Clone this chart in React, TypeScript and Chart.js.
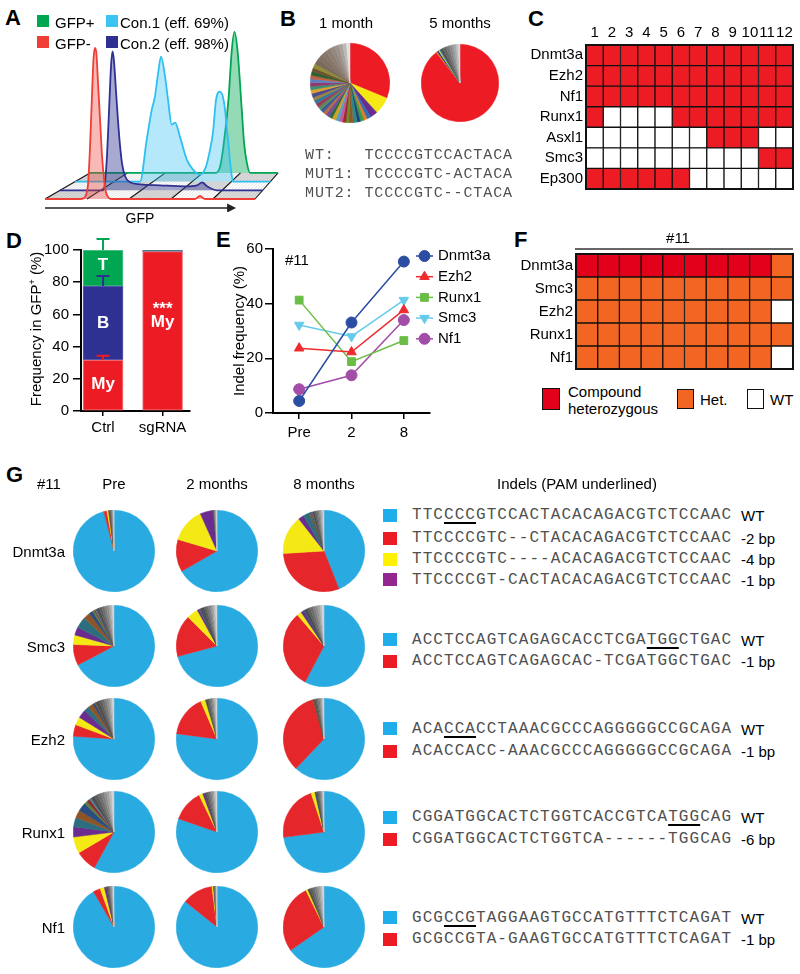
import React, { useEffect, useRef } from 'react';
import { Chart, registerables } from 'chart.js';
import { drawPoint } from 'chart.js/helpers';

Chart.register(...registerables);

const SANS = '"Liberation Sans", Arial, Helvetica, sans-serif';
const MONO = '"Liberation Mono", "DejaVu Sans Mono", monospace';
Chart.defaults.font.family = SANS;
Chart.defaults.font.size = 15;
Chart.defaults.color = '#000';
const TICK_FONT = { family: SANS, size: 15 };

// ---------------- Panel A: GFP histograms (x = GFP channel 0-100, y = counts) ----------------
const gfpNegX = [0, 16.7, 18.6, 19.5, 20.5, 21.4, 22.4, 23.1, 23.8, 24.5, 25.2, 26.2, 27.1, 28.1, 29.0, 30.0, 31.4, 71.4, 73.8, 76.2, 100];
const gfpNegY = [0, 0, 1, 4, 15, 50, 105, 140, 151, 145, 118, 80, 45, 20, 7, 2, 0, 0, 3, 0, 0];
const con2X = [0, 19, 21.2, 22.2, 23.2, 24.2, 25.2, 25.9, 26.6, 27.6, 28.6, 29.6, 30.6, 32.1, 34.5, 39.5, 49.3, 61.7, 67.6, 70.1, 72.5, 77.5, 100];
const con2Y = [0, 0, 0, 8, 35, 80, 125, 139, 130, 100, 70, 45, 27, 14, 8, 6, 5, 4, 5, 8, 4, 0, 0];
const con1X = [0, 33.3, 36.7, 39.3, 40.9, 42.5, 44.0, 46.1, 47.6, 49.5, 51.2, 53.7, 57.2, 60.4, 64.0, 67.0, 69.1, 70.6, 72.2, 74.2, 76.3, 78.3, 79.8, 80.9, 100];
const con1Y = [0, 0, 42, 72, 85, 108, 125, 105, 82, 57, 59, 45, 22, 12, 7, 15, 32, 49, 82, 90, 79, 42, 12, 0, 0];
const gfpPosX = [0, 66.5, 69.1, 70.9, 73.6, 75.4, 76.8, 78.4, 80.7, 81.9, 83.4, 85.1, 100];
const gfpPosY = [0, 0, 6, 26, 73, 123, 141, 123, 63, 30, 10, 0, 0];
const aLegendNames = ['GFP+', 'Con.1 (eff. 69%)', 'GFP-', 'Con.2 (eff. 98%)'];

// ---------------- Panel B ----------------
const bTitles = ['1 month', '5 months'];
const b1Values = [31, 7, 3,
  1.6, 1.4, 1.5, 1.3, 1.6, 1.7, 1.2, 1.4, 1.5, 1.3, 1.6, 1.4, 1.5, 1.3, 1.5, 1.4, 1.6, 1.5, 1.3, 1.6, 1.5, 1.4, 1.6, 1.5, 1.4, 1.6, 1.5, 1.6,
  2.4, 2.2, 2.1, 2.0, 1.9, 1.8, 1.6, 1.6, 1.4];
const b2Values = [89.5, 0.5, 0.7, 0.4, 0.3, 1.4, 1.3, 1.2, 1.1, 1.0, 1.0, 0.9, 0.7];
const bSeqs = ['WT:   TCCCCGTCCACTACA', 'MUT1: TCCCCGTC-ACTACA', 'MUT2: TCCCCGTC--CTACA'];

// ---------------- Panel C ----------------
const cColumns = ['1', '2', '3', '4', '5', '6', '7', '8', '9', '10', '11', '12'];
const cGenes = ['Dnmt3a', 'Ezh2', 'Nf1', 'Runx1', 'Asxl1', 'Smc3', 'Ep300'];
const cDnmt3a = [1, 1, 1, 1, 1, 1, 1, 1, 1, 1, 1, 1];
const cEzh2 = [1, 1, 1, 1, 1, 1, 1, 1, 1, 1, 1, 1];
const cNf1 = [1, 1, 1, 1, 1, 1, 1, 1, 1, 1, 1, 1];
const cRunx1 = [1, 0, 0, 0, 0, 1, 1, 1, 1, 1, 1, 1];
const cAsxl1 = [0, 0, 0, 0, 0, 0, 0, 1, 1, 1, 0, 0];
const cSmc3 = [0, 0, 0, 0, 0, 0, 0, 0, 0, 0, 1, 1];
const cEp300 = [1, 1, 1, 1, 1, 1, 0, 0, 0, 0, 0, 0];

// ---------------- Panel D ----------------
const dGroups = ['Ctrl', 'sgRNA'];
const dGroupX = [1, 2];
const dMy = [31.7, 99.0];
const dB = [45.9, 0.6];
const dT = [22.4, 0.4];
const dMyErr = [2.6, 0];
const dBErr = [6.3, 0];
const dTErr = [6.8, 0];
const dAnnotGroup = [0, 0, 0, 1, 1];
const dAnnotValue = [16.8, 54.7, 90.7, 63, 55];
const dAnnotText = ['My', 'B', 'T', '***', 'My'];

// ---------------- Panel E ----------------
const eTimes = ['Pre', '2', '8'];
const eDnmt3a = [4.4, 33.1, 55.4];
const eEzh2 = [23.7, 22.3, 37.7];
const eRunx1 = [41.3, 18.8, 26.5];
const eSmc3 = [32.2, 28.0, 41.3];
const eNf1 = [8.7, 13.8, 34.0];

// ---------------- Panel F ----------------
const fTitle = '#11';
const fColumns = ['1', '2', '3', '4', '5', '6', '7', '8', '9', '10'];
const fGenes = ['Dnmt3a', 'Smc3', 'Ezh2', 'Runx1', 'Nf1'];
const fDnmt3a = [2, 2, 2, 2, 2, 2, 2, 2, 2, 1];
const fSmc3 = [1, 1, 1, 1, 1, 1, 1, 1, 1, 1];
const fEzh2 = [1, 1, 1, 1, 1, 1, 1, 1, 1, 0];
const fRunx1 = [1, 1, 1, 1, 1, 1, 1, 1, 1, 1];
const fNf1 = [1, 1, 1, 1, 1, 1, 1, 1, 1, 0];

// ---------------- Panel G ----------------
const gGenes = ['Dnmt3a', 'Smc3', 'Ezh2', 'Runx1', 'Nf1'];
const gTimes = ['Pre', '2 months', '8 months'];
// slice order: WT, indel 1, indel 2, indel 3, other indels x6, rare alleles x8
const gDnmt3aPre = [96, 1.2, 0.6, 0, 0, 0.3, 0, 0, 0, 0, 0.3, 0.3, 0.3, 0.3, 0.2, 0.2, 0.2, 0.1];
const gDnmt3a2m = [66.7, 12.9, 13.7, 5.0, 0, 0, 0, 0, 0, 0, 0.3, 0.2, 0.2, 0.2, 0.2, 0.2, 0.2, 0.2];
const gDnmt3a8m = [44, 30, 15.4, 2.2, 2.4, 0.4, 0.3, 0.3, 0.2, 0.2, 0.8, 0.7, 0.6, 0.6, 0.5, 0.5, 0.5, 0.4];
const gSmc3Pre = [67.3, 8.3, 3.8, 3.2, 4.4, 2.7, 1.5, 0.8, 0.4, 0.4, 1.2, 1.1, 1.0, 0.9, 0.9, 0.8, 0.7, 0.6];
const gSmc32m = [70.9, 16.6, 4.5, 0.8, 0.3, 0.2, 0.5, 0, 0, 0, 1.0, 0.9, 0.8, 0.8, 0.7, 0.7, 0.7, 0.6];
const gSmc38m = [57.7, 31, 1.8, 1.2, 0.2, 0, 0.2, 0, 0, 0, 1.2, 1.1, 1.1, 1.0, 1.0, 0.9, 0.8, 0.8];
const gEzh2Pre = [76.1, 4.6, 3.2, 3.4, 2.0, 2.0, 1.0, 0.3, 0.2, 0, 1.2, 1.1, 1.0, 0.9, 0.9, 0.8, 0.7, 0.6];
const gEzh22m = [77.1, 16.4, 1.9, 0, 0, 0, 0, 0, 0, 0, 0.8, 0.7, 0.6, 0.6, 0.5, 0.5, 0.5, 0.4];
const gEzh28m = [62.1, 33.4, 0, 0, 0, 0.4, 0, 0, 0, 0, 0.7, 0.6, 0.6, 0.5, 0.5, 0.4, 0.4, 0.4];
const gRunx1Pre = [58, 8.5, 6.5, 4.1, 3.7, 3.1, 3.4, 1.2, 1.3, 0.7, 1.5, 1.4, 1.3, 1.2, 1.1, 1.1, 1.0, 0.9];
const gRunx12m = [80.3, 12.5, 1.5, 0.7, 0, 0, 0, 0, 0, 0, 0.8, 0.7, 0.7, 0.6, 0.6, 0.6, 0.5, 0.5];
const gRunx18m = [72.9, 22, 1.5, 0, 0, 0, 0.5, 0, 0, 0, 0.5, 0.5, 0.4, 0.4, 0.4, 0.3, 0.3, 0.3];
const gNf1Pre = [91.6, 2.9, 1.7, 0.8, 0, 0, 0, 0, 0, 0, 0.5, 0.4, 0.4, 0.4, 0.4, 0.3, 0.3, 0.3];
const gNf12m = [85.8, 12.2, 0.6, 0, 0, 0, 0, 0, 0, 0, 0.2, 0.2, 0.2, 0.2, 0.2, 0.2, 0.1, 0.1];
const gNf18m = [65.3, 27.4, 0.8, 0, 0, 0, 0, 0, 0, 0, 1.0, 0.9, 0.9, 0.8, 0.8, 0.8, 0.7, 0.6];
const gPies = [
  [gDnmt3aPre, gDnmt3a2m, gDnmt3a8m],
  [gSmc3Pre, gSmc32m, gSmc38m],
  [gEzh2Pre, gEzh22m, gEzh28m],
  [gRunx1Pre, gRunx12m, gRunx18m],
  [gNf1Pre, gNf12m, gNf18m],
];
const gSeqDnmt3a = ['TTCCCCGTCCACTACACAGACGTCTCCAAC', 'TTCCCCGTC--CTACACAGACGTCTCCAAC', 'TTCCCCGTC----ACACAGACGTCTCCAAC', 'TTCCCCGT-CACTACACAGACGTCTCCAAC'];
const gSeqSmc3 = ['ACCTCCAGTCAGAGCACCTCGATGGCTGAC', 'ACCTCCAGTCAGAGCAC-TCGATGGCTGAC'];
const gSeqEzh2 = ['ACACCACCTAAACGCCCAGGGGGCCGCAGA', 'ACACCACC-AAACGCCCAGGGGGCCGCAGA'];
const gSeqRunx1 = ['CGGATGGCACTCTGGTCACCGTCATGGCAG', 'CGGATGGCACTCTGGTCA------TGGCAG'];
const gSeqNf1 = ['GCGCCGTAGGAAGTGCCATGTTTCTCAGAT', 'GCGCCGTA-GAAGTGCCATGTTTCTCAGAT'];
const gSeqLabDnmt3a = ['WT', '-2 bp', '-4 bp', '-1 bp'];
const gSeqLabSmc3 = ['WT', '-1 bp'];
const gSeqLabEzh2 = ['WT', '-1 bp'];
const gSeqLabRunx1 = ['WT', '-6 bp'];
const gSeqLabNf1 = ['WT', '-1 bp'];
const gPam = [[3, 6], [22, 25], [3, 6], [24, 27], [3, 6]];

// ---------------- styles ----------------
const RED = '#ED1C24';
const BLUE = '#2E3192';
const GREEN = '#00A651';
const gPalette = ['#29ABE2', '#E5262A', '#F4E815', '#6A2C8E', '#2C6E7E', '#8D5527', '#2B4C7E', '#5F7D3A', '#8A2A2A', '#4B84AE',
  '#4d4d4d', '#5c5c5c', '#6c6c6c', '#7c7c7c', '#8e8e8e', '#a2a2a2', '#b8b8b8', '#d4d4d4'];
const bMulti = ['#2f6eb5', '#e07b28', '#3a9a4a', '#1f3f7a', '#2a8a8a', '#8b5a2b', '#6b8e23', '#a0282f', '#c05a9a', '#4aa3c8', '#d4a020', '#2b6b3e', '#7a4a9a', '#b86a3a',
  '#3a5a9a', '#5a8a5a', '#9a3a5a', '#2a7a9a', '#a08040', '#4a4a8a', '#e0a030', '#3b8f6f', '#8f3b6f', '#5f7fbf', '#bf5f3f', '#2f5f2f', '#6f4f2f', '#8f8f2f'];
const b1Colors = [RED, '#F4E815', '#6A2C8E', ...bMulti,
  '#7b6a5c', '#817064', '#87776b', '#8d7e73', '#94877d', '#9c918a', '#a8a09a', '#bdb9b5', '#e2e2e2'];
const b2Colors = [RED, '#E8862A', '#2B3990', '#F4E815', '#29ABE2', '#555555', '#656565', '#757575', '#868686', '#979797', '#aaaaaa', '#bebebe', '#d8d8d8'];
const seqColorsDnmt3a = ['#1FAEEA', RED, '#FFF200', '#92278F'];
const seqColors2 = ['#1FAEEA', RED];

// ---------------- Panel A geometry helpers ----------------
const A_SHIFT = 15;
const A_FRONT = 210;
const A_SHRINK = 7.3;
const A_UNIT = 2.1;
const A_RISE = 8.7;
const aPoint = (gx: number, k: number) => ({ x: (A_SHIFT * k + (gx * (A_FRONT - A_SHRINK * k)) / 100) / A_UNIT, y: A_RISE * k });

const aSeries = [
  { xs: gfpNegX, ys: gfpNegY, line: '#EF3E36', fill: 'rgba(239,62,54,0.36)' },
  { xs: con2X, ys: con2Y, line: '#2E3192', fill: 'rgba(46,49,146,0.42)' },
  { xs: con1X, ys: con1Y, line: '#2EC0F0', fill: 'rgba(46,192,240,0.36)' },
  { xs: gfpPosX, ys: gfpPosY, line: '#00A651', fill: 'rgba(0,166,81,0.42)' },
];

const aFloorPlugin = {
  id: 'aFloor',
  beforeDatasetsDraw(chart: any) {
    const { ctx } = chart;
    const xs = chart.scales.x;
    const ys = chart.scales.y;
    const P = (gx: number, k: number) => {
      const p = aPoint(gx, k);
      return [xs.getPixelForValue(p.x), ys.getPixelForValue(p.y)];
    };
    const quad = (pts: number[][], color: string) => {
      ctx.beginPath();
      ctx.moveTo(pts[0][0], pts[0][1]);
      for (let i = 1; i < pts.length; i++) ctx.lineTo(pts[i][0], pts[i][1]);
      ctx.closePath();
      ctx.fillStyle = color;
      ctx.fill();
    };
    ctx.save();
    quad([P(0, 0), P(100, 0), P(100, 3), P(0, 3)], '#ffffff');
    for (let c = 0; c < 5; c++) {
      for (let s = 0; s < 3; s++) {
        if ((c + s) % 2 === 0) quad([P(c * 20, s), P(c * 20 + 20, s), P(c * 20 + 20, s + 1), P(c * 20, s + 1)], '#dcdcdc');
      }
    }
    ctx.strokeStyle = 'rgba(90,90,90,0.25)';
    ctx.lineWidth = 0.7;
    for (let g = 1; g < 100; g += 1.6) {
      const a = P(g, 0), b = P(g, 3);
      ctx.beginPath(); ctx.moveTo(a[0], a[1]); ctx.lineTo(b[0], b[1]); ctx.stroke();
    }
    ctx.strokeStyle = '#111';
    ctx.lineWidth = 1.1;
    [0, 20, 40, 60, 80, 100].forEach((g) => {
      const a = P(g, 0), b = P(g, 3);
      ctx.beginPath(); ctx.moveTo(a[0], a[1]); ctx.lineTo(b[0], b[1]); ctx.stroke();
    });
    ctx.restore();
  },
  afterDraw(chart: any) {
    const { ctx } = chart;
    const xs = chart.scales.x;
    const ys = chart.scales.y;
    const y0 = ys.getPixelForValue(-9);
    const x0 = xs.getPixelForValue(0);
    const x1 = xs.getPixelForValue(91);
    ctx.save();
    ctx.strokeStyle = '#222';
    ctx.fillStyle = '#222';
    ctx.lineWidth = 1.6;
    ctx.beginPath(); ctx.moveTo(x0, y0); ctx.lineTo(x1 - 6, y0); ctx.stroke();
    ctx.beginPath(); ctx.moveTo(x1, y0); ctx.lineTo(x1 - 9, y0 - 4.5); ctx.lineTo(x1 - 9, y0 + 4.5); ctx.closePath(); ctx.fill();
    ctx.restore();
  },
};

const aConfig = () => ({
  type: 'line',
  data: {
    datasets: aSeries.map((s, k) => ({
      data: s.xs.map((gx, i) => {
        const p = aPoint(gx, k);
        return { x: p.x, y: p.y + s.ys[i] };
      }),
      borderColor: s.line,
      backgroundColor: s.fill,
      fill: { value: A_RISE * k },
      borderWidth: 1.8,
      pointRadius: 0,
      cubicInterpolationMode: 'monotone',
    })),
  },
  options: {
    responsive: false, animation: false, events: [],
    layout: { autoPadding: false },
    plugins: { legend: { display: false }, tooltip: { enabled: false } },
    scales: {
      x: { type: 'linear', display: false, min: -45 / A_UNIT, max: (300 - 45) / A_UNIT },
      y: { type: 'linear', display: false, min: -13, max: 199 },
    },
  },
  plugins: [aFloorPlugin],
});

// ---------------- pie config ----------------
const pieConfig = (values: number[], colors: string[]) => () => ({
  type: 'pie',
  data: { datasets: [{ data: values, backgroundColor: colors, borderColor: colors, borderWidth: 0.5, hoverOffset: 0, offset: 0 }] },
  options: { responsive: false, animation: false, events: [], plugins: { legend: { display: false }, tooltip: { enabled: false } } },
});

// ---------------- heatmap config ----------------
const framePlugin = {
  id: 'frame',
  afterDatasetsDraw(chart: any) {
    const { ctx, chartArea: a } = chart;
    ctx.save();
    ctx.strokeStyle = '#111';
    ctx.lineWidth = 2;
    ctx.strokeRect(a.left, a.top, a.right - a.left, a.bottom - a.top);
    ctx.restore();
  },
};

const fTitlePlugin = {
  id: 'fTitle',
  afterDraw(chart: any) {
    const { ctx, chartArea: a } = chart;
    ctx.save();
    ctx.strokeStyle = '#333';
    ctx.lineWidth = 1.5;
    ctx.beginPath(); ctx.moveTo(a.left - 1, a.top - 5); ctx.lineTo(a.right, a.top - 5); ctx.stroke();
    ctx.fillStyle = '#000';
    ctx.font = `15px ${SANS}`;
    ctx.textAlign = 'center';
    ctx.textBaseline = 'middle';
    ctx.fillText(fTitle, a.left + 102, a.top - 15);
    ctx.restore();
  },
};

function heatConfig(o: any) {
  const n = o.genes.length;
  const datasets: any[] = [];
  for (let i = n - 1; i >= 0; i--) {
    datasets.push({
      label: o.genes[i],
      data: o.rows[i].map(() => 1),
      backgroundColor: o.rows[i].map((v: number) => o.colors[v]),
      borderColor: '#111', borderWidth: 1, borderSkipped: false,
      barPercentage: 1, categoryPercentage: 1, stack: 'grid',
    });
  }
  return () => ({
    type: 'bar',
    data: { labels: o.columns, datasets },
    options: {
      responsive: false, animation: false, events: [],
      layout: { padding: o.padding, autoPadding: false },
      plugins: { legend: { display: false }, tooltip: { enabled: false } },
      scales: {
        x: {
          type: 'category', stacked: true, position: 'top', display: o.showX,
          grid: { display: false, drawTicks: false }, border: { display: false },
          ticks: { padding: 3, maxRotation: 0, autoSkip: false, font: TICK_FONT },
          afterFit: (ax: any) => { ax.height = o.xHeight; },
        },
        y: {
          type: 'linear', stacked: true, min: 0, max: n,
          grid: { display: false, drawTicks: false }, border: { display: false },
          afterBuildTicks: (ax: any) => { ax.ticks = o.genes.map((_: any, i: number) => ({ value: i + 0.5 })); },
          ticks: { padding: 3, autoSkip: false, font: TICK_FONT, callback: (v: any) => o.genes[n - 1 - Math.floor(v)] },
          afterFit: (ax: any) => { ax.width = o.yWidth; },
        },
      },
    },
    plugins: [framePlugin, ...(o.extra || [])],
  });
}

// ---------------- Panel D config ----------------
const dStacks = [dMy, dB, dT];
const dErrors = [dMyErr, dBErr, dTErr];
const dColors = [RED, BLUE, GREEN];
const dBorders = ['#F47C80', '#5B5FB3', '#5CC48A'];
const dPlugin = {
  id: 'dExtras',
  afterDatasetsDraw(chart: any) {
    const { ctx } = chart;
    const xs = chart.scales.x;
    const ys = chart.scales.y;
    ctx.save();
    dStacks.forEach((vals, di) => {
      vals.forEach((_, j) => {
        const e = dErrors[di][j];
        if (!e) return;
        let cum = 0;
        for (let q = 0; q <= di; q++) cum += dStacks[q][j];
        const px = xs.getPixelForValue(dGroupX[j]);
        const y0 = ys.getPixelForValue(cum);
        const y1 = ys.getPixelForValue(cum + e);
        ctx.strokeStyle = dColors[di];
        ctx.lineWidth = 2;
        ctx.beginPath();
        ctx.moveTo(px, y0); ctx.lineTo(px, y1);
        ctx.moveTo(px - 6.5, y1); ctx.lineTo(px + 6.5, y1);
        ctx.stroke();
      });
    });
    ctx.fillStyle = '#fff';
    ctx.font = `bold 17px ${SANS}`;
    ctx.textAlign = 'center';
    ctx.textBaseline = 'middle';
    dAnnotText.forEach((t, i) => {
      ctx.fillText(t, xs.getPixelForValue(dGroupX[dAnnotGroup[i]]), ys.getPixelForValue(dAnnotValue[i]));
    });
    ctx.restore();
  },
};
const axisGrid = { drawOnChartArea: false, color: '#000', lineWidth: 1.5 };
const dConfig = () => ({
  type: 'bar',
  data: {
    datasets: dStacks.map((vals, di) => ({
      label: ['My', 'B', 'T'][di],
      data: vals.map((v, j) => ({ x: dGroupX[j], y: v })),
      backgroundColor: dColors[di], borderColor: dBorders[di], borderWidth: 1, borderSkipped: false,
      barThickness: 40,
    })),
  },
  options: {
    responsive: false, animation: false, events: [],
    layout: { padding: { top: 20, right: 10, left: 0, bottom: 0 }, autoPadding: false },
    plugins: { legend: { display: false }, tooltip: { enabled: false } },
    scales: {
      x: {
        type: 'linear', stacked: true, min: 0.63, max: 2.46, offset: false,
        afterBuildTicks: (ax: any) => { ax.ticks = dGroupX.map((v) => ({ value: v })); },
        ticks: { autoSkip: false, padding: 3, font: TICK_FONT, callback: (v: any) => dGroups[dGroupX.indexOf(v)] },
        grid: { ...axisGrid, tickLength: 5, offset: false }, border: { color: '#000', width: 2 },
        afterFit: (ax: any) => { ax.height = 30; },
      },
      y: {
        stacked: true, min: 0, max: 100,
        ticks: { stepSize: 20, padding: 4, font: TICK_FONT },
        grid: { ...axisGrid, tickLength: 8 }, border: { color: '#000', width: 2 },
        afterFit: (ax: any) => { ax.width = 81; },
      },
    },
  },
  plugins: [dPlugin],
});

// ---------------- Panel E config ----------------
const eSeries = [
  { label: 'Dnmt3a', data: eDnmt3a, color: '#2B4EA2', style: 'circle', rot: 0 },
  { label: 'Ezh2', data: eEzh2, color: '#EE2A2E', style: 'triangle', rot: 0 },
  { label: 'Runx1', data: eRunx1, color: '#6ABD45', style: 'rect', rot: 0 },
  { label: 'Smc3', data: eSmc3, color: '#66CBEA', style: 'triangle', rot: 180 },
  { label: 'Nf1', data: eNf1, color: '#A24DA8', style: 'circle', rot: 0 },
];
const eLegendPlugin = {
  id: 'eLegend',
  afterDraw(chart: any) {
    const { ctx, chartArea } = chart;
    chart.data.datasets.forEach((ds: any, i: number) => {
      const y = chartArea.top + 7 + i * 20.7;
      const xl = chartArea.right - 14;
      const xr = chartArea.right + 3;
      ctx.save();
      ctx.strokeStyle = ds.borderColor;
      ctx.lineWidth = 1.5;
      ctx.beginPath(); ctx.moveTo(xl, y); ctx.lineTo(xr, y); ctx.stroke();
      ctx.fillStyle = ds.backgroundColor;
      ctx.lineWidth = 1;
      drawPoint(ctx, { pointStyle: ds.pointStyle, rotation: ds.pointRotation || 0, radius: ds.pointRadius, borderWidth: 1 } as any, (xl + xr) / 2, y);
      ctx.fillStyle = '#000';
      ctx.font = `15px ${SANS}`;
      ctx.textAlign = 'left';
      ctx.textBaseline = 'middle';
      ctx.fillText(ds.label, chartArea.right + 8, y);
      ctx.restore();
    });
  },
};
const eConfig = () => ({
  type: 'line',
  data: {
    labels: eTimes,
    datasets: eSeries.map((s) => ({
      label: s.label, data: s.data, borderColor: s.color, backgroundColor: s.color,
      pointStyle: s.style, pointRotation: s.rot, pointRadius: 5.5, pointBorderWidth: 1,
      borderWidth: 1.5, clip: false, tension: 0,
    })),
  },
  options: {
    responsive: false, animation: false, events: [],
    layout: { padding: { top: 19, right: 75, left: 0, bottom: 0 }, autoPadding: false },
    plugins: { legend: { display: false }, tooltip: { enabled: false } },
    scales: {
      x: {
        type: 'category', offset: true,
        grid: { ...axisGrid, tickLength: 6, offset: false }, border: { color: '#000', width: 2 },
        ticks: { padding: 5, font: TICK_FONT },
        afterFit: (ax: any) => { ax.height = 30; },
      },
      y: {
        min: 0, max: 60, ticks: { stepSize: 20, padding: 2, font: TICK_FONT },
        grid: { ...axisGrid, tickLength: 8 }, border: { color: '#000', width: 2 },
        afterFit: (ax: any) => { ax.width = 53; },
      },
    },
  },
  plugins: [eLegendPlugin],
});

// ---------------- React helpers ----------------
function ChartCanvas({ x, y, w, h, config }: { x: number; y: number; w: number; h: number; config: () => any }) {
  const ref = useRef<HTMLCanvasElement | null>(null);
  useEffect(() => {
    if (!ref.current) return;
    const chart = new Chart(ref.current, config());
    return () => chart.destroy();
  }, []);
  return <canvas ref={ref} width={w} height={h} style={{ position: 'absolute', left: x, top: y, width: w, height: h }} />;
}

function T({ x, y, s = 15, w = 'normal', a = 'l', c = '#000', f = SANS, ls, children }: any) {
  const tx = a === 'l' ? '0' : a === 'c' ? '-50%' : '-100%';
  return (
    <div style={{ position: 'absolute', left: x, top: y, transform: `translate(${tx},-50%)`, fontSize: s, fontWeight: w, color: c, fontFamily: f, lineHeight: 1, whiteSpace: 'pre', letterSpacing: ls }}>
      {children}
    </div>
  );
}

function RotT({ x, y, s = 15, children }: any) {
  return (
    <div style={{ position: 'absolute', left: x, top: y, transform: 'translate(-50%,-50%) rotate(-90deg)', fontSize: s, fontFamily: SANS, lineHeight: 1, whiteSpace: 'pre', color: '#000' }}>
      {children}
    </div>
  );
}

function Sq({ x, y, w, h, c, b }: any) {
  return <div style={{ position: 'absolute', left: x, top: y, width: w, height: h, background: c, border: b ? '1.5px solid #111' : 'none', boxSizing: 'border-box' }} />;
}

function Seq({ x, y, text, ul }: any) {
  const content = ul ? (
    <>
      {text.slice(0, ul[0])}
      <span style={{ textDecorationLine: 'underline', textDecorationThickness: '2px', textUnderlineOffset: '3px', textDecorationColor: '#000' }}>{text.slice(ul[0], ul[1])}</span>
      {text.slice(ul[1])}
    </>
  ) : text;
  return <T x={x} y={y} s={16} f={MONO} c="#505050" ls={1.07}>{content}</T>;
}

// layout constants
const gPieCx = [114, 217, 324];
const gPieCy = [551, 646, 739, 832, 927];
const gSeqRows = [
  { seqs: gSeqDnmt3a, labs: gSeqLabDnmt3a, cols: seqColorsDnmt3a, ys: [515, 538, 559, 579.5] },
  { seqs: gSeqSmc3, labs: gSeqLabSmc3, cols: seqColors2, ys: [639.5, 661] },
  { seqs: gSeqEzh2, labs: gSeqLabEzh2, cols: seqColors2, ys: [728.5, 751] },
  { seqs: gSeqRunx1, labs: gSeqLabRunx1, cols: seqColors2, ys: [817, 839] },
  { seqs: gSeqNf1, labs: gSeqLabNf1, cols: seqColors2, ys: [917.5, 939] },
];

export default function App() {
  const cConfig = heatConfig({
    columns: cColumns, genes: cGenes, rows: [cDnmt3a, cEzh2, cNf1, cRunx1, cAsxl1, cSmc3, cEp300],
    colors: ['#FFFFFF', RED], yWidth: 66, xHeight: 23, showX: true, padding: { right: 3, bottom: 2, left: 0, top: 0 },
  });
  const fConfig = heatConfig({
    columns: fColumns, genes: fGenes, rows: [fDnmt3a, fSmc3, fEzh2, fRunx1, fNf1],
    colors: ['#FFFFFF', '#F26522', '#E2001A'], yWidth: 71, xHeight: 0, showX: false, padding: { top: 24, right: 3, bottom: 2, left: 0 },
    extra: [fTitlePlugin],
  });
  const aLegendColors = [GREEN, '#3BC4F2', '#EF3E36', BLUE];
  const aLegendPos = [[37, 15], [106, 15], [37, 36], [106, 36]];
  return (
    <div style={{ position: 'absolute', left: 0, top: 0, width: 800, height: 974, background: '#fff', overflow: 'hidden', fontFamily: SANS }}>
      {/* Panel labels */}
      <T x={5} y={17.5} s={22} w="bold">A</T>
      <T x={280} y={18.5} s={22} w="bold">B</T>
      <T x={528} y={19} s={22} w="bold">C</T>
      <T x={6} y={240.5} s={22} w="bold">D</T>
      <T x={216} y={240} s={22} w="bold">E</T>
      <T x={514} y={240} s={22} w="bold">F</T>
      <T x={6} y={474.5} s={22} w="bold">G</T>

      {/* Panel A */}
      <ChartCanvas x={0} y={0} w={300} h={212} config={aConfig} />
      {aLegendNames.map((n, i) => (
        <React.Fragment key={n}>
          <Sq x={aLegendPos[i][0]} y={aLegendPos[i][1]} w={12} h={12} c={aLegendColors[i]} />
          <T x={aLegendPos[i][0] + (i % 2 === 0 ? 18 : 14)} y={aLegendPos[i][1] + 6.5} s={15}>{n}</T>
        </React.Fragment>
      ))}
      <T x={140} y={218} a="c" s={14}>GFP</T>

      {/* Panel B */}
      <T x={346} y={22} a="c">{bTitles[0]}</T>
      <T x={460} y={22} a="c">{bTitles[1]}</T>
      <ChartCanvas x={310} y={43} w={80} h={80} config={pieConfig(b1Values, b1Colors)} />
      <ChartCanvas x={421} y={44} w={78} h={78} config={pieConfig(b2Values, b2Colors)} />
      {bSeqs.map((s, i) => (
        <T key={s} x={305} y={155 + i * 19} s={15} f={MONO} c="#505050" ls={0.9}>{s}</T>
      ))}

      {/* Panel C */}
      <ChartCanvas x={520} y={22} w={276} h={179} config={cConfig} />

      {/* Panel D */}
      <ChartCanvas x={0} y={230} w={200} h={211} config={dConfig} />
      <RotT x={35} y={329}>Frequency in GFP<sup style={{ fontSize: 9, verticalAlign: 'super', lineHeight: 0 }}>+</sup> (%)</RotT>

      {/* Panel E */}
      <ChartCanvas x={220} y={230} w={285} h={213} config={eConfig} />
      <RotT x={237.5} y={331}>Indel frequency (%)</RotT>
      <T x={285} y={259}>#11</T>

      {/* Panel F */}
      <ChartCanvas x={505} y={230} w={291} h={151} config={fConfig} />
      <Sq x={542} y={388} w={18} h={22} c="#E2001A" b />
      <T x={568} y={391}>Compound</T>
      <T x={568} y={408}>heterozygous</T>
      <Sq x={677} y={389} w={17} h={20} c="#F26522" b />
      <T x={700} y={399}>Het.</T>
      <Sq x={747} y={389} w={17} h={20} c="#FFFFFF" b />
      <T x={770} y={399}>WT</T>

      {/* Panel G */}
      <T x={37} y={483}>#11</T>
      {gTimes.map((t, i) => (
        <T key={t} x={gPieCx[i]} y={483} a="c">{t}</T>
      ))}
      <T x={577} y={483} a="c">Indels (PAM underlined)</T>
      {gGenes.map((g, r) => (
        <React.Fragment key={g}>
          <T x={65} y={gPieCy[r]} a="r">{g}</T>
          {gPies[r].map((vals, c) => (
            <ChartCanvas key={c} x={gPieCx[c] - 41} y={gPieCy[r] - 41} w={82} h={82} config={pieConfig(vals, gPalette)} />
          ))}
        </React.Fragment>
      ))}
      {gSeqRows.map((row, r) => (
        <React.Fragment key={r}>
          {row.seqs.map((s, i) => (
            <React.Fragment key={s}>
              <Sq x={383} y={row.ys[i] - 6.5} w={14} h={13} c={row.cols[i]} />
              <Seq x={412} y={row.ys[i]} text={s} ul={i === 0 ? gPam[r] : null} />
              <T x={741} y={row.ys[i]} s={15}>{row.labs[i]}</T>
            </React.Fragment>
          ))}
        </React.Fragment>
      ))}
    </div>
  );
}
